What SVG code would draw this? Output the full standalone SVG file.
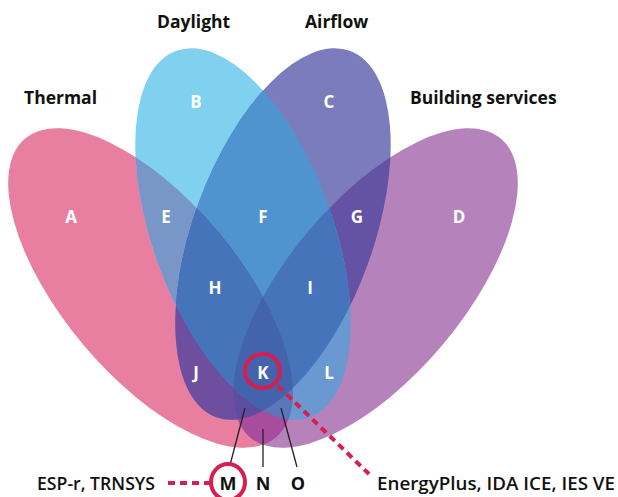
<svg xmlns="http://www.w3.org/2000/svg" width="618" height="497" viewBox="0 0 618 497">
<style>
.title{font-family:"Open Sans","Noto Sans","Liberation Sans",sans-serif;font-weight:700;font-size:17.5px;fill:#111}
.reg{font-family:"Open Sans","Noto Sans","Liberation Sans",sans-serif;font-weight:700;font-size:17px;fill:#fff;text-anchor:middle}
.bot{font-family:"Open Sans","Noto Sans","Liberation Sans",sans-serif;font-weight:600;font-size:18px;fill:#111}
.botc{font-family:"Open Sans","Noto Sans","Liberation Sans",sans-serif;font-weight:700;font-size:18px;fill:#111;text-anchor:middle}
.lead{stroke:#222;stroke-width:1.3;fill:none}
.dash{stroke:#D61F50;stroke-width:4;stroke-dasharray:7 5;fill:none}
.ring{stroke:#D61F50;stroke-width:4;fill:none}
</style>
<defs>
<ellipse id="eT" cx="150.5" cy="288" rx="88" ry="195" transform="rotate(-40 150.5 288)"/>
<ellipse id="eD" cx="243" cy="234" rx="90" ry="195" transform="rotate(-20 243 234)"/>
<ellipse id="eA" cx="283" cy="234" rx="90" ry="195" transform="rotate(20 283 234)"/>
<ellipse id="eB" cx="375.5" cy="288" rx="88" ry="195" transform="rotate(40 375.5 288)"/>
<clipPath id="cT"><use href="#eT"/></clipPath>
<clipPath id="cD"><use href="#eD"/></clipPath>
<clipPath id="cA"><use href="#eA"/></clipPath>
<clipPath id="cB"><use href="#eB"/></clipPath>
</defs>

<g id="thermal">
<use href="#eT" fill="#E87EA0"/>
<text class="title" x="24" y="104">Thermal</text>
</g>
<g id="daylight">
<use href="#eD" fill="#80D1F0"/>
<text class="title" x="157" y="28">Daylight</text>
</g>
<g id="airflow">
<use href="#eA" fill="#7B7CBC"/>
<text class="title" x="305" y="28">Airflow</text>
</g>
<g id="building-services">
<use href="#eB" fill="#B582BB"/>
<text class="title" x="410" y="104">Building services</text>
</g>

<g id="overlaps">
<g clip-path="url(#cT)"><use href="#eD" fill="#7896C8"/></g>
<g clip-path="url(#cD)"><use href="#eA" fill="#5094CF"/></g>
<g clip-path="url(#cA)"><use href="#eB" fill="#6453A5"/></g>
<g clip-path="url(#cT)"><use href="#eA" fill="#6E4E9F"/></g>
<g clip-path="url(#cD)"><use href="#eB" fill="#6A98D0"/></g>
<g clip-path="url(#cT)"><use href="#eB" fill="#A84C9E"/></g>
<g clip-path="url(#cT)"><g clip-path="url(#cD)"><use href="#eA" fill="#4674BA"/></g></g>
<g clip-path="url(#cD)"><g clip-path="url(#cA)"><use href="#eB" fill="#4674BA"/></g></g>
<g clip-path="url(#cT)"><g clip-path="url(#cA)"><use href="#eB" fill="#5C4CA2"/></g></g>
<g clip-path="url(#cT)"><g clip-path="url(#cD)"><use href="#eB" fill="#5B77BB"/></g></g>
<g clip-path="url(#cT)"><g clip-path="url(#cD)"><g clip-path="url(#cA)"><use href="#eB" fill="#4463AD"/></g></g></g>
</g>

<g id="region-labels">
<text class="reg" x="71" y="223">A</text>
<text class="reg" x="196" y="108">B</text>
<text class="reg" x="329" y="108">C</text>
<text class="reg" x="459" y="223">D</text>
<text class="reg" x="166" y="223">E</text>
<text class="reg" x="263" y="223">F</text>
<text class="reg" x="357" y="223">G</text>
<text class="reg" x="215" y="294">H</text>
<text class="reg" x="310" y="294">I</text>
<text class="reg" x="196" y="379">J</text>
<text class="reg" x="263" y="379">K</text>
<text class="reg" x="329" y="379">L</text>
</g>

<g id="connectors">
<line class="lead" x1="245" y1="408" x2="230" y2="465"/>
<line class="lead" x1="263" y1="429" x2="263" y2="467"/>
<line class="lead" x1="281" y1="408" x2="297" y2="467"/>
<line class="dash" x1="278" y1="386" x2="369" y2="474"/>
<line class="dash" x1="168" y1="483" x2="210" y2="483"/>
<ellipse class="ring" cx="262.5" cy="371" rx="17.5" ry="17"/>
<ellipse class="ring" cx="228" cy="482" rx="17" ry="18"/>
</g>

<g id="bottom-labels">
<text class="bot" x="37" y="490" textLength="118" lengthAdjust="spacingAndGlyphs">ESP-r, TRNSYS</text>
<text class="botc" x="228" y="490">M</text>
<text class="botc" x="263" y="490">N</text>
<text class="botc" x="298" y="490">O</text>
<text class="bot" x="377" y="490" textLength="238" lengthAdjust="spacingAndGlyphs">EnergyPlus, IDA ICE, IES VE</text>
</g>
</svg>
